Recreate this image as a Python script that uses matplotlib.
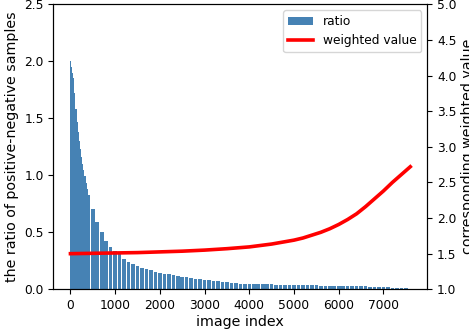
import numpy as np
import matplotlib
matplotlib.use('Agg')
import matplotlib.pyplot as plt

# ratio of positive/negative samples (sorted); finer bars for the steep start
head_index = list(range(0, 400, 25))
head_ratio = [2.00, 1.95, 1.90, 1.85, 1.72, 1.58, 1.47, 1.38,
              1.30, 1.23, 1.16, 1.10, 1.05, 0.99, 0.93, 0.88]

bar_index = list(range(400, 7600, 100))
ratio = [0.83, 0.70, 0.59, 0.50, 0.42, 0.37,
         0.34, 0.31, 0.27, 0.24, 0.22, 0.20, 0.185, 0.175, 0.165, 0.155,
         0.145, 0.135, 0.13, 0.125, 0.118, 0.112, 0.105, 0.098, 0.092, 0.087,
         0.083, 0.080, 0.076, 0.070, 0.066, 0.062, 0.058, 0.055, 0.047, 0.046,
         0.045, 0.045, 0.044, 0.044, 0.043, 0.043, 0.042, 0.042, 0.036, 0.036,
         0.035, 0.035, 0.035, 0.034, 0.034, 0.034, 0.033, 0.033, 0.026, 0.026,
         0.026, 0.026, 0.025, 0.025, 0.025, 0.025, 0.025, 0.024, 0.024, 0.024,
         0.024, 0.024, 0.015, 0.015, 0.014, 0.014]

# weighted value curve
w_index = [0, 500, 1000, 1500, 2000, 2500, 3000, 3500, 4000, 4500, 5000,
           5200, 5400, 5600, 5800, 6000, 6200, 6400, 6600, 6800, 7000,
           7200, 7400, 7600]
weighted = [1.50, 1.505, 1.51, 1.515, 1.525, 1.535, 1.55, 1.57, 1.595, 1.635, 1.69,
            1.72, 1.76, 1.80, 1.85, 1.91, 1.98, 2.06, 2.16, 2.27, 2.38,
            2.50, 2.61, 2.72]

plt.rcParams['font.size'] = 8.8
fig = plt.figure(figsize=(4.69, 3.31), dpi=100)
ax = fig.add_axes([0.114, 0.126, 0.797, 0.861])
b = ax.bar(bar_index, ratio, width=80, color='steelblue', label='ratio')
ax.bar(head_index, head_ratio, width=25, color='steelblue')
ax.set_ylim(0, 2.5)
ax.set_xlim(-380, 7980)
ax.set_xticks(range(0, 8000, 1000))
ax.set_xlabel('image index', fontsize=10.3, labelpad=2)
ax.set_ylabel('the ratio of positive-negative samples', fontsize=10.3, labelpad=4)

ax2 = ax.twinx()
l, = ax2.plot(w_index, weighted, color='red', linewidth=2.6, label='weighted value')
ax2.set_ylim(1.0, 5.0)
ax2.set_ylabel('corresponding weighted value', fontsize=10.3, labelpad=3)

ax2.legend([b, l], ['ratio', 'weighted value'], loc='upper right')
fig.savefig('out.png', dpi=100)
